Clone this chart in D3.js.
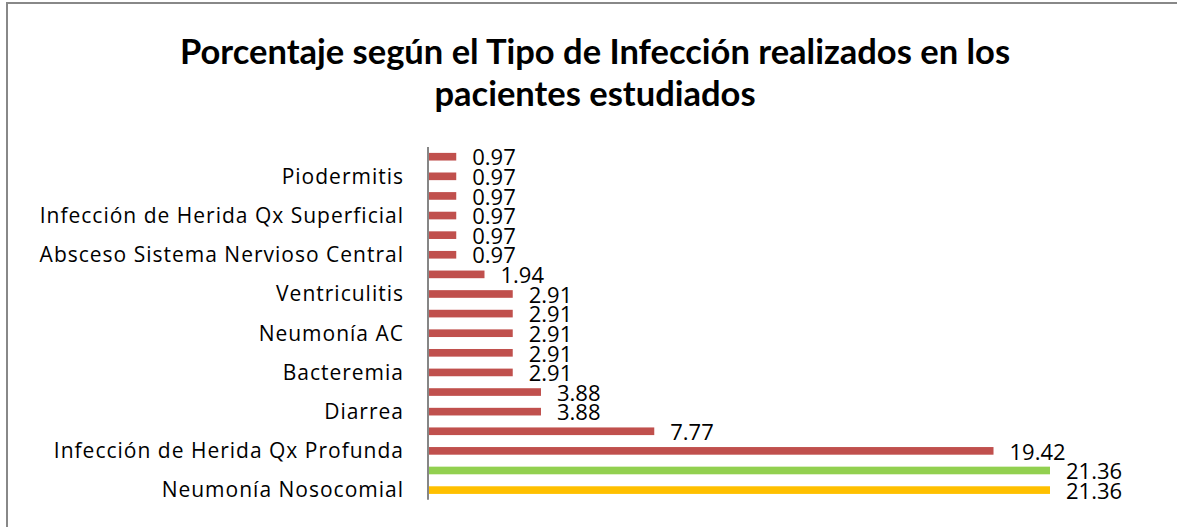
<!DOCTYPE html>
<html>
<head>
<meta charset="utf-8">
<script src="https://cdn.jsdelivr.net/npm/d3@7"></script>
<style>
    body { margin: 0; background: #fff; }
    svg { display: block; }
</style>
</head>
<body>
<div id="chart"></div>
<script>
// bottom to top; Excel only shows every other category label
const categories = [
    "Neumonía Nosocomial", "",
    "Infección de Herida Qx Profunda", "",
    "Diarrea", "",
    "Bacteremia", "",
    "Neumonía AC", "",
    "Ventriculitis", "",
    "Absceso Sistema Nervioso Central", "",
    "Infección de Herida Qx Superficial", "",
    "Piodermitis", ""
];
const values = [21.36, 21.36, 19.42, 7.77, 3.88, 3.88, 2.91, 2.91, 2.91, 2.91, 2.91, 1.94, 0.97, 0.97, 0.97, 0.97, 0.97, 0.97];
const barColors = ["#FFC000", "#92D050"]; // rest use default red
const titleLines = ["Porcentaje según el Tipo de Infección realizados en los", "pacientes estudiados"];

function init() {
    const W = 1177, H = 527;
    const margin = { top: 147, left: 428 };

    const svg = d3.select("#chart").append("svg")
        .attr("width", W)
        .attr("height", H);

    // chart area frame
    svg.append("rect")
        .attr("x", 7).attr("y", 3)
        .attr("width", W + 10).attr("height", H + 10)
        .attr("fill", "none")
        .attr("stroke", "#888")
        .attr("stroke-width", 2);

    svg.append("text")
        .attr("text-anchor", "middle")
        .attr("font-family", "Lato, sans-serif")
        .attr("font-weight", "bold")
        .attr("font-size", 34.5)
        .attr("fill", "#000")
        .selectAll("tspan")
        .data(titleLines)
        .enter().append("tspan")
        .attr("x", 595)
        .attr("y", (d, i) => 64 + i * 42)
        .text(d => d);

    const idx = d3.range(values.length);

    const x = d3.scaleLinear()
        .domain([0, 21.36])
        .range([0, 622]);

    const y = d3.scaleBand()
        .domain(idx)
        .range([499.8 - margin.top, 0])
        .paddingInner(0.61)
        .paddingOuter(0.3);

    const g = svg.append("g")
        .attr("transform", `translate(${margin.left},${margin.top})`);

    const yAxis = g.append("g")
        .call(d3.axisLeft(y).tickSize(0).tickFormat(i => categories[i]));
    yAxis.select(".domain").remove();
    yAxis.selectAll("text")
        .attr("x", -24)
        .attr("dy", "0.35em")
        .attr("font-family", "'Open Sans', sans-serif")
        .attr("font-size", 21)
        .attr("letter-spacing", 1)
        .attr("fill", "#000");

    g.selectAll(".bar")
        .data(idx)
        .enter().append("rect")
        .attr("class", "bar")
        .attr("x", 0)
        .attr("y", i => y(i))
        .attr("width", i => x(values[i]))
        .attr("height", y.bandwidth())
        .attr("fill", i => barColors[i] || "#C0504D");

    g.selectAll(".val")
        .data(idx)
        .enter().append("text")
        .attr("class", "val")
        .attr("x", i => x(values[i]) + 16)
        .attr("y", i => y(i) + y.bandwidth() / 2 + 1)
        .attr("dy", "0.35em")
        .attr("font-family", "'Open Sans', sans-serif")
        .attr("font-size", 22)
        .attr("fill", "#000")
        .text(i => values[i].toFixed(2));

    g.append("line")
        .attr("x1", 0).attr("x2", 0)
        .attr("y1", 0).attr("y2", 499.8 - margin.top)
        .attr("stroke", "#868686")
        .attr("stroke-width", 2);
}

window.onload = init;
</script>
</body>
</html>
